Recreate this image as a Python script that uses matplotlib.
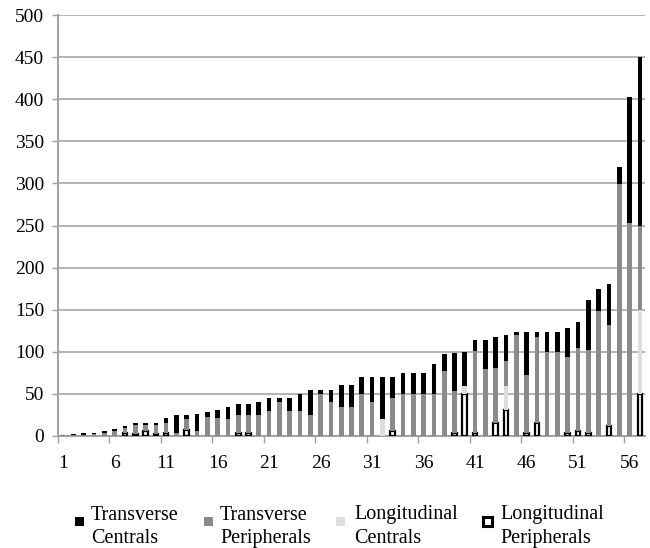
import matplotlib
matplotlib.use("Agg")
import matplotlib.pyplot as plt
import numpy as np
from matplotlib.patches import Rectangle

categories = list(range(1, 58))

long_peripherals = [0, 0, 0, 0, 0, 0, 3, 2, 6, 2,
                    4, 0, 7, 0, 0, 0, 0, 3, 3, 0,
                    0, 0, 0, 0, 0, 0, 0, 0, 0, 0,
                    0, 0, 6, 0, 0, 0, 0, 0, 4, 50,
                    3, 0, 16, 31, 0, 3, 16, 0, 0, 3,
                    6, 3, 0, 12, 0, 0, 50]
long_centrals = [0] * 31 + [20] + [0] * 7 + [9] + [0] * 3 + [28] + [0] * 12 + [100]
trans_peripherals = [1, 1, 1, 2, 3, 6, 6, 11, 7, 11,
                     12, 3, 13, 6, 22, 21, 20, 22, 22, 25,
                     30, 40, 30, 30, 25, 50, 40, 35, 35, 50,
                     40, 0, 39, 50, 50, 50, 50, 77, 50, 0,
                     98, 80, 65, 30, 120, 70, 101, 100, 100, 91,
                     99, 99, 149, 120, 299, 253, 100]
trans_centrals = [0, 1, 3, 2, 3, 2, 3, 3, 3, 3,
                  5, 22, 5, 20, 6, 10, 15, 13, 13, 15,
                  15, 5, 15, 20, 30, 5, 15, 25, 25, 20,
                  30, 50, 25, 25, 25, 25, 35, 20, 44, 41,
                  13, 34, 36, 31, 3, 50, 6, 24, 24, 34,
                  30, 60, 25, 49, 20, 150, 200]

yticks = [0, 50, 100, 150, 200, 250, 300, 350, 400, 450, 500]
xtick_labels = ["1", "6", "11", "16", "21", "26", "31", "36", "41", "46", "51", "56"]
series_labels = ["Transverse\nCentrals", "Transverse\nPeripherals",
                 "Longitudinal\nCentrals", "Longitudinal\nPeripherals"]

plt.rcParams['font.family'] = ['Liberation Serif', 'DejaVu Serif']
FS = 14
FS_LEG = 14.5

W, H = 650, 548
fig = plt.figure(figsize=(W / 100, H / 100), dpi=100)
ax = fig.add_axes([58 / W, 1 - 436 / H, 587 / W, 421 / H])

x = np.arange(len(categories))
w = 0.45
lp = np.array(long_peripherals, float)
lc = np.array(long_centrals, float)
tp = np.array(trans_peripherals, float)
tc = np.array(trans_centrals, float)

C_TC, C_TP, C_LC = 'black', '#8a8a8a', '#dedede'
ax.bar(x, lp, w, color='white', edgecolor='black', linewidth=1.6, zorder=3)
ax.bar(x, lc, w, bottom=lp, color=C_LC, linewidth=0, zorder=3)
ax.bar(x, tp, w, bottom=lp + lc, color=C_TP, linewidth=0, zorder=3)
ax.bar(x, tc, w, bottom=lp + lc + tp, color=C_TC, linewidth=0, zorder=3)

ax.set_ylim(0, 500)
ax.set_xlim(-0.5, len(categories) - 0.5)
ax.set_yticks(yticks)
ax.yaxis.grid(True, color='#b3b3b3', linewidth=1.4, zorder=0)
ax.set_axisbelow(True)

ax.set_xticks(np.arange(-0.5, len(categories), 5))
ax.set_xticklabels([])
ax.set_xticks(np.arange(0, len(categories), 5), minor=True)
ax.set_xticklabels(xtick_labels, minor=True)
ax.tick_params(axis='x', which='major', length=5, color='#a0a0a0', width=1)
ax.tick_params(axis='x', which='minor', length=0, pad=14, labelsize=FS)
ax.tick_params(axis='y', length=4, color='#a0a0a0', width=1, labelsize=FS, pad=6)

for s in ['top', 'right']:
    ax.spines[s].set_visible(False)
for s in ['left', 'bottom']:
    ax.spines[s].set_color('#a0a0a0')
    ax.spines[s].set_linewidth(1.4)

# legend: marker aligned with the first text line
marker_x = [79, 208, 340, 487]
text_x = [91, 220, 354, 500]
styles = [dict(facecolor=C_TC, edgecolor=C_TC, linewidth=0),
          dict(facecolor=C_TP, edgecolor=C_TP, linewidth=0),
          dict(facecolor=C_LC, edgecolor=C_LC, linewidth=0),
          dict(facecolor='white', edgecolor='black', linewidth=2.2)]
line1_y = 522
sq = 9
for mx, tx, st, lab in zip(marker_x, text_x, styles, series_labels):
    fig.patches.append(Rectangle(((mx - sq / 2) / W, 1 - (line1_y - 1 + sq / 2) / H),
                                 sq / W, sq / H, transform=fig.transFigure, **st))
    fig.text(tx / W, 1 - line1_y / H, lab, fontsize=FS_LEG, ha='left',
             va='center_baseline', linespacing=1.3)

fig.savefig("out.png", dpi=100)
